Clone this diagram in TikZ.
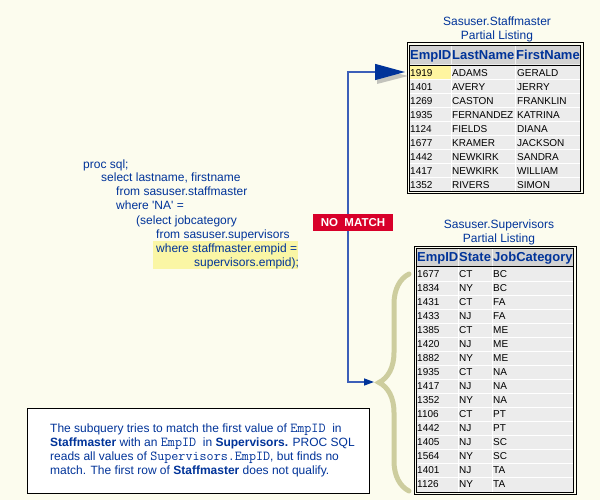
\documentclass[tikz,border=0pt]{standalone}
\usepackage{fontspec}
\setmainfont{Liberation Sans}
\usetikzlibrary{arrows.meta,decorations.pathreplacing}

\definecolor{bgcream}{RGB}{252,252,238}
\definecolor{sasblue}{RGB}{0,51,153}
\definecolor{linkblue}{RGB}{60,95,185}
\definecolor{hdrgray}{RGB}{210,210,210}
\definecolor{rowgray}{RGB}{236,236,236}
\definecolor{hiyellow}{RGB}{255,245,160}
\definecolor{codeyellow}{RGB}{250,246,165}
\definecolor{nored}{RGB}{216,0,42}
\definecolor{bracetan}{RGB}{205,205,158}

\newcommand\monotxt[1]{{\fontsize{13.7}{14}\selectfont\ttfamily #1}}

\begin{document}
\begin{tikzpicture}[x=1pt, y=-1pt]
    \tikzstyle{title} = [text=sasblue, font=\fontsize{12}{14}\selectfont, align=center]
    \tikzstyle{hdr} = [anchor=west, inner sep=0pt, text=sasblue, font=\fontsize{13}{15}\selectfont\bfseries, text height=9.4pt, text depth=0pt]
    \tikzstyle{cell} = [anchor=west, inner sep=0pt, font=\fontsize{10}{12}\selectfont, text height=7.2pt, text depth=0pt]
    \tikzstyle{code} = [anchor=base west, inner sep=0pt, text=sasblue, font=\fontsize{12}{14}\selectfont]
    \tikzstyle{nomatch} = [fill=nored, text=white, font=\fontsize{11.5}{13}\selectfont\bfseries, minimum width=80pt, minimum height=17pt, inner sep=0pt]
    \tikzstyle{notebox} = [draw=black, line width=1.2pt, fill=white, minimum width=342pt, minimum height=85pt, anchor=north west]
    \tikzstyle{link} = [draw=linkblue, line width=1.4pt]

    % Background
    \fill[bgcream] (0,0) rectangle (600,500);
    \useasboundingbox (0,0) rectangle (600,500);

    % SQL code
    \fill[codeyellow] (153,241) rectangle (298,269);
    \node[code] (sql1) at (83,168) {proc sql;};
    \node[code] (sql2) at (101,182) {select lastname, firstname};
    \node[code] (sql3) at (116,196) {from sasuser.staffmaster};
    \node[code] (sql4) at (116,210) {where \textquotesingle NA\textquotesingle\ =};
    \node[code] (sql5) at (136,224) {(select jobcategory};
    \node[code] (sql6) at (156,238) {from sasuser.supervisors};
    \node[code] (sql7) at (156,252) {where staffmaster.empid =};
    \node[code] (sql8) at (194,266) {supervisors.empid);};

    % Staffmaster table
    \node[title] (stf-title) at (497,29) {Sasuser.Staffmaster\\Partial Listing};
    \draw[black, line width=1pt] (407,43) rectangle (583,194);
    \filldraw[fill=rowgray, draw=black, line width=.8pt] (409.5,45.5) rectangle (580.5,191.8);
    \fill[hdrgray] (410,46) rectangle (580,64);
    \draw[black, line width=.8pt] (409.5,65) -- (580.5,65);
    \fill[hiyellow] (410,66) rectangle (450.5,79.5);
    \foreach \r in {1,...,8}
        \draw[white, line width=1pt] (410,{66+14*\r}) -- (580,{66+14*\r});
    \foreach \c in {451,515} {
        \draw[white, line width=1pt] (\c,66) -- (\c,191.4);
        \draw[white!70!hdrgray, line width=.8pt] (\c,46) -- (\c,64);
    }
    \node[hdr] (stf-h1) at (410,55) {EmpID};
    \node[hdr] (stf-h2) at (452,55) {LastName};
    \node[hdr] (stf-h3) at (516,55) {FirstName};
    \foreach \id/\last/\first [count=\r] in {1919/ADAMS/GERALD, 1401/AVERY/JERRY,
        1269/CASTON/FRANKLIN, 1935/FERNANDEZ/KATRINA, 1124/FIELDS/DIANA,
        1677/KRAMER/JACKSON, 1442/NEWKIRK/SANDRA, 1417/NEWKIRK/WILLIAM,
        1352/RIVERS/SIMON} {
        \node[cell] (stf-\r-1) at (410,{59+14*\r}) {\id};
        \node[cell] (stf-\r-2) at (452,{59+14*\r}) {\last};
        \node[cell] (stf-\r-3) at (517,{59+14*\r}) {\first};
    }

    % Supervisors table
    \node[title] (sup-title) at (499,232) {Sasuser.Supervisors\\Partial Listing};
    \draw[black, line width=1pt] (414,246) rectangle (576,494.5);
    \filldraw[fill=rowgray, draw=black, line width=.8pt] (416.5,248.5) rectangle (573.5,492);
    \fill[hdrgray] (417,249) rectangle (573,265.5);
    \draw[black, line width=.8pt] (416.5,266.2) -- (573.5,266.2);
    \foreach \r in {1,...,15}
        \draw[white, line width=1pt] (417,{267+14*\r}) -- (573,{267+14*\r});
    \foreach \c in {458,492} {
        \draw[white, line width=1pt] (\c,267) -- (\c,491.6);
        \draw[white!70!hdrgray, line width=.8pt] (\c,249) -- (\c,265.5);
    }
    \node[hdr] (sup-h1) at (417,257) {EmpID};
    \node[hdr] (sup-h2) at (459,257) {State};
    \node[hdr] (sup-h3) at (493,257) {JobCategory};
    \foreach \id/\st/\cat [count=\r] in {1677/CT/BC, 1834/NY/BC, 1431/CT/FA,
        1433/NJ/FA, 1385/CT/ME, 1420/NJ/ME, 1882/NY/ME, 1935/CT/NA, 1417/NJ/NA,
        1352/NY/NA, 1106/CT/PT, 1442/NJ/PT, 1405/NJ/SC, 1564/NY/SC, 1401/NJ/TA,
        1126/NY/TA} {
        \node[cell] (sup-\r-1) at (417,{260+14*\r}) {\id};
        \node[cell] (sup-\r-2) at (459,{260+14*\r}) {\st};
        \node[cell] (sup-\r-3) at (493,{260+14*\r}) {\cat};
    }

    % Brace over the supervisors rows
    \draw[bracetan, line width=5pt, line cap=round, decorate,
        decoration={brace, amplitude=30pt, aspect=0.5}] (409,491) -- (409,274);

    % No match connector
    \coordinate (hit) at (405,72);
    \coordinate (brtip) at (374,382);
    \fill[black!45, opacity=.5] (377,68) -- (408,76) -- (377,84) -- cycle;
    \draw[link, {Triangle[length=10pt,width=7pt,color=sasblue]}-{Triangle[length=30pt,width=16pt,color=sasblue]}]
        (brtip) -- ++(-26,0) |- (hit);
    \node[nomatch] (nomatch) at (353,222.5) {NO~ MATCH};

    % Explanation
    \node[notebox] (note) at (27,408) {};
    \node[anchor=north west, align=left, inner sep=0pt, text=sasblue,
        font=\fontsize{12}{14}\selectfont] (notetext) at (50,424)
        {The subquery tries to match the first value of \monotxt{EmpID}\ \ in\\
         \textbf{Staffmaster} with an \monotxt{EmpID}\ \ in \textbf{Supervisors.} PROC SQL\\
         reads all values of \monotxt{Supervisors.EmpID}, but finds no\\
         match. The first row of \textbf{Staffmaster} does not qualify.};
\end{tikzpicture}
\end{document}
